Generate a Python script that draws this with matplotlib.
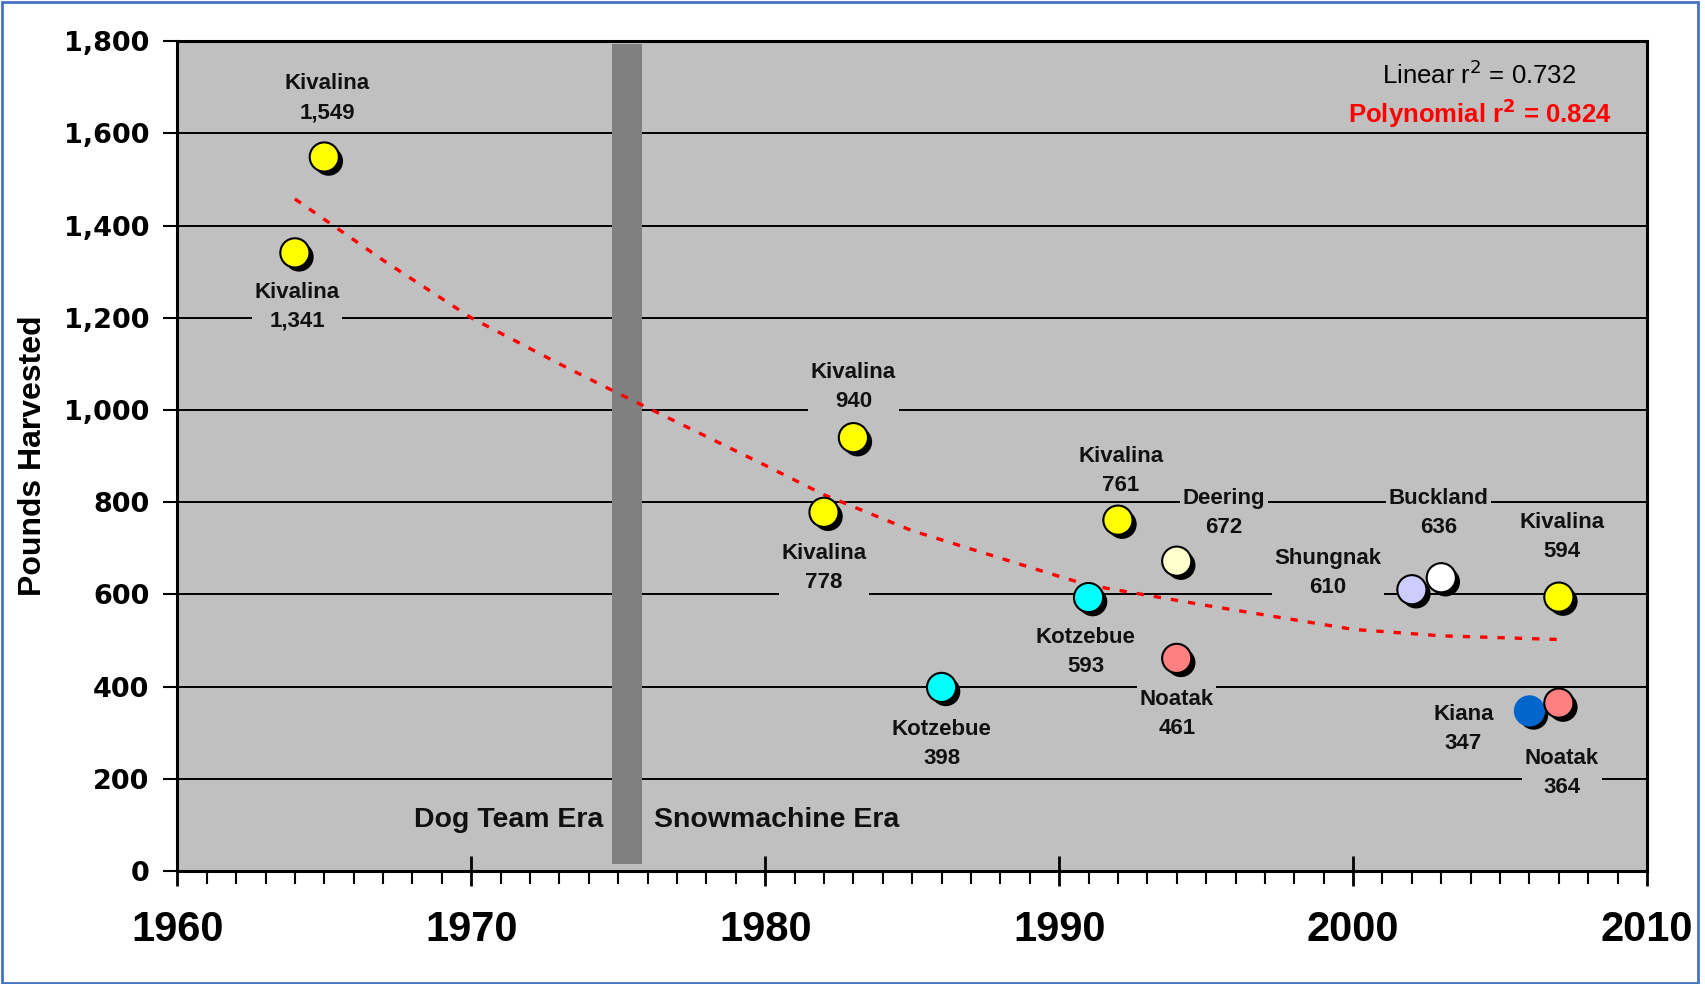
import matplotlib
matplotlib.use('Agg')
import matplotlib.pyplot as plt
import matplotlib.patheffects as pe
from matplotlib.patches import Rectangle
from matplotlib.ticker import MultipleLocator, FuncFormatter

# harvest per village / year
villages = ['Kivalina', 'Kivalina', 'Kivalina', 'Kivalina', 'Kotzebue', 'Kotzebue', 'Kivalina',
            'Deering', 'Noatak', 'Shungnak', 'Buckland', 'Kiana', 'Noatak', 'Kivalina']
years = [1964, 1965, 1982, 1983, 1986, 1991, 1992, 1994, 1994, 2002, 2003, 2006, 2007, 2007]
pounds = [1341, 1549, 778, 940, 398, 593, 761, 672, 461, 610, 636, 347, 364, 594]

village_colors = {'Kivalina': '#FFFF00', 'Kotzebue': '#00FFFF', 'Noatak': '#FF8080',
                  'Deering': '#FFFFCC', 'Shungnak': '#CCCCFF', 'Buckland': '#FFFFFF',
                  'Kiana': '#0066CC'}

# polynomial trend
trend_years = [1964, 1967, 1970, 1973, 1975, 1980, 1982, 1985, 1990, 1991, 1995, 2000, 2003, 2007]
trend_vals = [1458, 1325, 1200, 1100, 1036, 880, 816, 738, 639, 620, 576, 524, 510, 502]

# label offsets (layout only)
label_off = [(0.07, -117), (0.1, 128), (0, -120), (0, 110), (0, -122), (-0.1, -119), (0.1, 107),
             (1.6, 104), (0, -121), (-2.85, 36), (-0.1, 140), (-2.25, -40), (0.1, -152), (0.1, 130)]

fig = plt.figure(figsize=(17.05, 9.84), dpi=100)
ax = fig.add_axes([0.104, 0.115, 0.862, 0.843])
ax.set_facecolor('#C0C0C0')
ax.set_xlim(1960, 2010)
ax.set_ylim(0, 1800)

ax.yaxis.set_major_locator(MultipleLocator(200))
ax.grid(axis='y', color='black', lw=1.4, zorder=1)
ax.set_axisbelow(True)

# era divider
ax.fill_between([1974.8, 1975.8], 14, 1795, color='#808080', lw=0, zorder=2)
ax.text(1974.5, 111, 'Dog Team Era', ha='right', va='center', fontsize=20.5,
        fontweight='bold', family='Liberation Sans', color='#111111', zorder=3)
ax.text(1976.2, 111, 'Snowmachine Era', ha='left', va='center', fontsize=20.5,
        fontweight='bold', family='Liberation Sans', color='#111111', zorder=3)

ax.plot(trend_years, trend_vals, color='red', lw=2.4, ls=(0, (2.2, 3)), zorder=3)

shadow = [pe.SimplePatchShadow(offset=(3, -3), shadow_rgbFace='black', alpha=1.0), pe.Normal()]
for v, x, y in zip(villages, years, pounds):
    c = village_colors[v]
    ec = c if v == 'Kiana' else 'black'
    ax.plot([x], [y], 'o', ms=21, mfc=c, mec=ec, mew=1.5, zorder=4, path_effects=shadow)

for v, x, y, (dx, dy) in zip(villages, years, pounds, label_off):
    ax.text(x + dx, y + dy, f'{v}\n{y:,}', ha='center', va='center', multialignment='center',
            fontsize=16, fontweight='bold', family='Liberation Sans', color='#111111',
            linespacing=1.5, zorder=5,
            bbox=dict(boxstyle='square,pad=0.12', fc='#C0C0C0', ec='none'))

ax.text(2004.3, 1728, 'Linear r$^2$ = 0.732', ha='center', va='center', fontsize=18.5,
        family='Liberation Sans', color='black', zorder=5)
ax.text(2004.3, 1645, 'Polynomial r$^{\\mathbf{2}}$ = 0.824', ha='center', va='center',
        fontsize=18.5, fontweight='bold', family='Liberation Sans', color='red', zorder=5)

for s in ax.spines.values():
    s.set_linewidth(2.2)
    s.set_zorder(6)

ax.xaxis.set_major_locator(MultipleLocator(10))
ax.xaxis.set_minor_locator(MultipleLocator(1))
ax.tick_params(axis='x', which='major', direction='inout', length=22, width=2, pad=17)
ax.tick_params(axis='x', which='minor', direction='out', length=9, width=1.5)
ax.tick_params(axis='y', which='major', direction='out', length=10, width=1.5, pad=10)
ax.yaxis.set_major_formatter(FuncFormatter(lambda v, p: f'{int(v):,}'))

for t in ax.get_xticklabels():
    t.set_family('Liberation Sans')
    t.set_fontweight('bold')
    t.set_fontsize(30)
for t in ax.get_yticklabels():
    t.set_family('DejaVu Sans')
    t.set_fontweight('bold')
    t.set_fontsize(19.5)

ax.set_ylabel('Pounds Harvested', fontsize=23, fontweight='bold', family='Liberation Sans')
ax.yaxis.set_label_coords(-0.088, 0.5)

fig.patches.append(Rectangle((0.001, 0.001), 0.995, 0.997, transform=fig.transFigure,
                             fill=False, edgecolor='#4472C4', lw=2))

fig.savefig('out.png', dpi=100)
